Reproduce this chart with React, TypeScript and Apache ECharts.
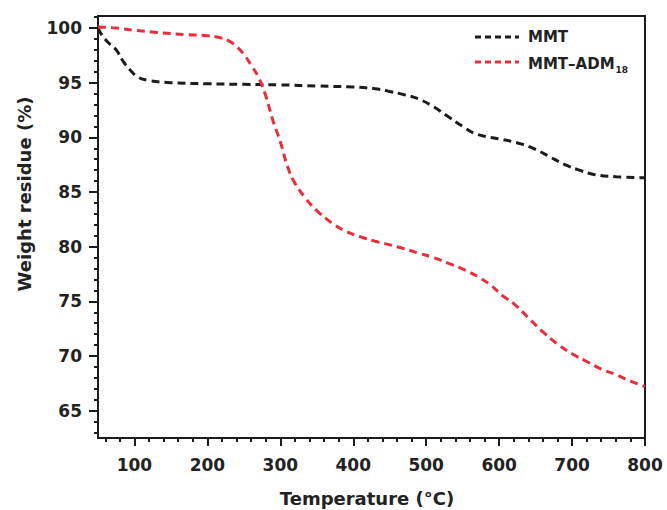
import React, { useEffect, useRef } from "react";
import * as echarts from "echarts";

const mmtTemp = [50, 55, 65, 75, 85, 95, 105, 120, 150, 200, 250, 300, 350, 400, 430, 450, 470, 490, 510, 530, 550, 565, 580, 605, 630, 650, 670, 690, 710, 730, 760, 800];
const mmtWeight = [100, 99.4, 98.6, 98.0, 96.9, 96.1, 95.5, 95.2, 95.0, 94.9, 94.85, 94.8, 94.7, 94.6, 94.45, 94.2, 93.9, 93.5, 92.8, 91.9, 91.0, 90.4, 90.1, 89.8, 89.4, 88.9, 88.2, 87.5, 87.0, 86.6, 86.4, 86.3];

const admTemp = [50, 75, 100, 130, 170, 200, 215, 230, 240, 250, 260, 270, 280, 290, 300, 310, 320, 335, 350, 370, 390, 410, 430, 460, 490, 510, 530, 555, 575, 590, 605, 620, 640, 660, 680, 700, 720, 740, 760, 780, 800];
const admWeight = [100.1, 100.0, 99.8, 99.6, 99.4, 99.3, 99.15, 98.8, 98.3, 97.6, 96.6, 95.5, 93.8, 91.5, 89.6, 87.3, 85.8, 84.4, 83.3, 82.2, 81.4, 80.9, 80.5, 80.0, 79.4, 79.0, 78.5, 77.8, 77.1, 76.4, 75.5, 74.8, 73.5, 72.2, 71.1, 70.2, 69.5, 68.8, 68.3, 67.7, 67.2];

const xMajorTicks = [100, 200, 300, 400, 500, 600, 700, 800];
const xMinorTicks = [60, 80, 120, 140, 160, 180, 220, 240, 260, 280, 320, 340, 360, 380, 420, 440, 460, 480, 520, 540, 560, 580, 620, 640, 660, 680, 720, 740, 760, 780];
const yMajorTicks = [65, 70, 75, 80, 85, 90, 95, 100];
const yMinorTicks = [63, 64, 66, 67, 68, 69, 71, 72, 73, 74, 76, 77, 78, 79, 81, 82, 83, 84, 86, 87, 88, 89, 91, 92, 93, 94, 96, 97, 98, 99, 101];

const seriesNames = ["MMT", "MMT–ADM"];
const xTitle = "Temperature (°C)";
const yTitle = "Weight residue (%)";

const FONT = "DejaVu Sans";
const BLACK = "#1c1c1c";
const RED = "#e5303c";

export default function App() {
  const ref = useRef<HTMLDivElement>(null);
  useEffect(() => {
    if (!ref.current) return;
    const chart = echarts.init(ref.current, null, { renderer: "svg" });
    const xMin = 50, xMax = 800, yMin = 62.5, yMax = 101.1;
    const baseAxis = {
      min: xMin,
      max: xMax,
      type: "value" as const,
    };
    chart.setOption({
      animation: false,
      backgroundColor: "#ffffff",
      grid: {
        left: 98,
        right: 22,
        top: 16,
        bottom: 72,
        show: true,
        borderColor: BLACK,
        borderWidth: 2,
        backgroundColor: "transparent",
      },
      xAxis: [
        {
          ...baseAxis,
          position: "bottom",
          axisLine: { show: true, onZero: false, lineStyle: { color: BLACK, width: 2 } },
          axisTick: { show: true, inside: false, length: 8, customValues: xMajorTicks, lineStyle: { color: BLACK, width: 2 } },
          axisLabel: {
            show: true,
            customValues: xMajorTicks,
            margin: 18,
            color: "#222",
            fontFamily: FONT,
            fontWeight: "bold",
            fontSize: 17,
          },
          splitLine: { show: false },
        },
        {
          ...baseAxis,
          position: "bottom",
          axisLine: { show: false, onZero: false },
          axisTick: { show: true, inside: false, length: 4, customValues: xMinorTicks, lineStyle: { color: BLACK, width: 2 } },
          axisLabel: { show: false },
          splitLine: { show: false },
        },
      ],
      yAxis: [
        {
          type: "value",
          min: yMin,
          max: yMax,
          position: "left",
          axisLine: { show: true, onZero: false, lineStyle: { color: BLACK, width: 2 } },
          axisTick: { show: true, inside: false, length: 9, customValues: yMajorTicks, lineStyle: { color: BLACK, width: 2 } },
          axisLabel: {
            show: true,
            customValues: yMajorTicks,
            margin: 16,
            color: "#222",
            fontFamily: FONT,
            fontWeight: "bold",
            fontSize: 17,
          },
          splitLine: { show: false },
        },
        {
          type: "value",
          min: yMin,
          max: yMax,
          position: "left",
          axisLine: { show: false, onZero: false },
          axisTick: { show: true, inside: false, length: 4, customValues: yMinorTicks, lineStyle: { color: BLACK, width: 2 } },
          axisLabel: { show: false },
          splitLine: { show: false },
        },
      ],
      series: [
        {
          name: seriesNames[0],
          type: "line",
          xAxisIndex: 0,
          yAxisIndex: 0,
          data: mmtTemp.map((t, i) => [t, mmtWeight[i]]),
          showSymbol: false,
          symbol: "none",
          smooth: 0.4,
          lineStyle: { color: BLACK, width: 3, type: [8, 5] },
        },
        {
          name: seriesNames[1],
          type: "line",
          xAxisIndex: 0,
          yAxisIndex: 0,
          data: admTemp.map((t, i) => [t, admWeight[i]]),
          showSymbol: false,
          symbol: "none",
          smooth: 0.4,
          lineStyle: { color: RED, width: 3, type: [8, 5] },
        },
      ],
      graphic: [
        {
          type: "text",
          x: 367,
          y: 498,
          style: {
            text: xTitle,
            font: `bold 18px "${FONT}"`,
            fill: "#222",
            align: "center",
            verticalAlign: "middle",
          },
        },
        {
          type: "text",
          x: 24,
          y: 194,
          rotation: Math.PI / 2,
          style: {
            text: yTitle,
            font: `bold 18px "${FONT}"`,
            fill: "#222",
            align: "center",
            verticalAlign: "middle",
          },
        },
        {
          type: "line",
          shape: { x1: 475, y1: 37, x2: 519, y2: 37 },
          style: { stroke: BLACK, lineWidth: 3, lineDash: [6, 4] },
        },
        {
          type: "line",
          shape: { x1: 475, y1: 62, x2: 519, y2: 62 },
          style: { stroke: RED, lineWidth: 3, lineDash: [6, 4] },
        },
        {
          type: "text",
          x: 528,
          y: 37,
          style: {
            text: seriesNames[0],
            font: `bold 15px "${FONT}"`,
            fill: "#222",
            align: "left",
            verticalAlign: "middle",
          },
        },
        {
          type: "text",
          x: 528,
          y: 62,
          style: {
            text: `{a|${seriesNames[1]}}{s|18}`,
            fill: "#222",
            align: "left",
            verticalAlign: "middle",
            rich: {
              a: { fontFamily: FONT, fontWeight: "bold", fontSize: 15, fill: "#222", verticalAlign: "bottom", lineHeight: 18 },
              s: { fontFamily: FONT, fontWeight: "bold", fontSize: 9, fill: "#222", verticalAlign: "bottom", lineHeight: 14, padding: [0, 0, -3, 1] },
            },
          },
        },
      ],
    });
    return () => chart.dispose();
  }, []);
  return <div ref={ref} style={{ width: 667, height: 510, position: "fixed", left: 0, top: 0 }} />;
}
